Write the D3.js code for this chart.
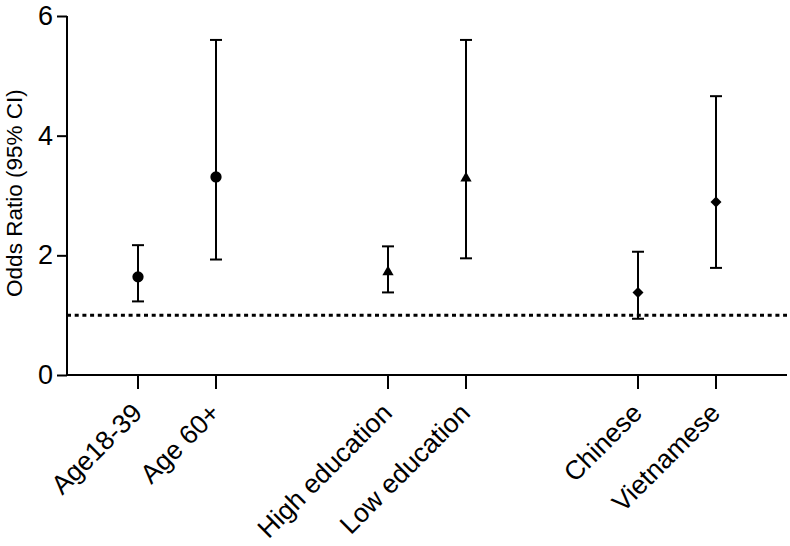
<!DOCTYPE html>
<html>
<head>
<meta charset="utf-8">
<script src="https://cdn.jsdelivr.net/npm/d3@7"></script>
<style>
  body { margin: 0; background: #fff; }
  text { font-family: "Liberation Sans", Arial, sans-serif; fill: #000; }
</style>
</head>
<body>
<div id="chart"></div>
<script>
// data
const groups = ['age', 'education', 'origin']
const labels = ['Age18-39', 'Age 60+', 'High education', 'Low education', 'Chinese', 'Vietnamese']
const groupOf = ['age', 'age', 'education', 'education', 'origin', 'origin']
const oddsRatio = [1.64, 3.31, 1.72, 3.29, 1.38, 2.89]
const ciLow = [1.23, 1.93, 1.38, 1.95, 0.94, 1.79]
const ciHigh = [2.17, 5.6, 2.15, 5.6, 2.06, 4.66]
const markerOf = ['circle', 'circle', 'triangle', 'triangle', 'diamond', 'diamond']
const yTicks = [0, 2, 4, 6]
const refLine = 1

var fullWidth = 790;
var fullHeight = 546;
var margin = {top: 16, right: 3, bottom: 171, left: 67};
var width = fullWidth - margin.left - margin.right;
var height = fullHeight - margin.top - margin.bottom;

var x = d3.scalePoint().domain(groups).range([0, width]).padding(0.44);
var inner = d3.scalePoint().domain([0, 1]).range([-39, 39]);
var y = d3.scaleLinear().domain([0, 6]).range([height, 0]);

var data = labels.map(function(l, i) {
  return {label: l, group: groupOf[i], sub: i % 2, or: oddsRatio[i], lo: ciLow[i], hi: ciHigh[i], marker: markerOf[i]}
})
function xPos(d) { return x(d.group) + inner(d.sub); }

var svg = d3.select("#chart")
  .append("svg")
    .attr("width", fullWidth)
    .attr("height", fullHeight)
  .append("g")
    .attr("transform", "translate(" + margin.left + "," + margin.top + ")");

// y axis
var yAxis = svg.append("g")
  .call(d3.axisLeft(y).tickValues(yTicks).tickSize(10).tickPadding(4).tickFormat(d3.format('d')));
yAxis.select('.domain').attr('stroke-width', 2).attr('d', 'M0,' + height + 'V0');
yAxis.selectAll('.tick line').attr('stroke-width', 2);
yAxis.selectAll('.tick text').style('font-size', '27px');

// x axis
var xAxis = svg.append("g")
  .attr("transform", "translate(0," + height + ")")
  .call(d3.axisBottom(x).tickSize(0).tickFormat(''));
xAxis.select('.domain').attr('stroke-width', 2).attr('d', 'M0,0H' + width);
xAxis.selectAll('.tick').remove();

var xt = svg.selectAll('.xtick').data(data).enter().append('g')
  .attr('class', 'xtick')
  .attr('transform', function(d) { return 'translate(' + xPos(d) + ',' + height + ')'; });
xt.append('line').attr('y2', 14).attr('stroke', '#000').attr('stroke-width', 2);
xt.append('text')
  .attr('transform', 'translate(-1,33) rotate(-45)')
  .attr('text-anchor', 'end')
  .attr('dy', '0.35em')
  .style('font-size', '26.5px')
  .text(function(d) { return d.label; });

// y label
svg.append("text")
  .attr('text-anchor', 'middle')
  .attr('transform', 'rotate(-90)')
  .attr('x', -(y(3.04)))
  .attr('y', -45)
  .style('font-size', '22.5px')
  .text('Odds Ratio (95% CI)');

// reference line
svg.append('line')
  .attr('x1', 0).attr('x2', width)
  .attr('y1', y(refLine)).attr('y2', y(refLine))
  .attr('stroke', '#000')
  .attr('stroke-width', 3)
  .attr('stroke-dasharray', '4,3.7');

// error bars
var bars = svg.selectAll('.err').data(data).enter().append('g')
  .attr('class', 'err')
  .attr('transform', function(d) { return 'translate(' + xPos(d) + ',0)'; });
bars.append('line')
  .attr('y1', function(d) { return y(d.lo); })
  .attr('y2', function(d) { return y(d.hi); })
  .attr('stroke', '#000').attr('stroke-width', 2);
bars.append('line')
  .attr('x1', -6).attr('x2', 6)
  .attr('y1', function(d) { return y(d.hi); })
  .attr('y2', function(d) { return y(d.hi); })
  .attr('stroke', '#000').attr('stroke-width', 2);
bars.append('line')
  .attr('x1', -6).attr('x2', 6)
  .attr('y1', function(d) { return y(d.lo); })
  .attr('y2', function(d) { return y(d.lo); })
  .attr('stroke', '#000').attr('stroke-width', 2);

var symbols = {circle: d3.symbolCircle, triangle: d3.symbolTriangle, diamond: d3.symbolSquare}
var symSize = {circle: 100, triangle: 55, diamond: 60}
var symRot = {circle: 0, triangle: 0, diamond: 45}
bars.append('path')
  .attr('transform', function(d) { return 'translate(0,' + y(d.or) + ') rotate(' + symRot[d.marker] + ')'; })
  .attr('d', function(d) { return d3.symbol().type(symbols[d.marker]).size(symSize[d.marker])(); })
  .attr('fill', '#000');
</script>
</body>
</html>
